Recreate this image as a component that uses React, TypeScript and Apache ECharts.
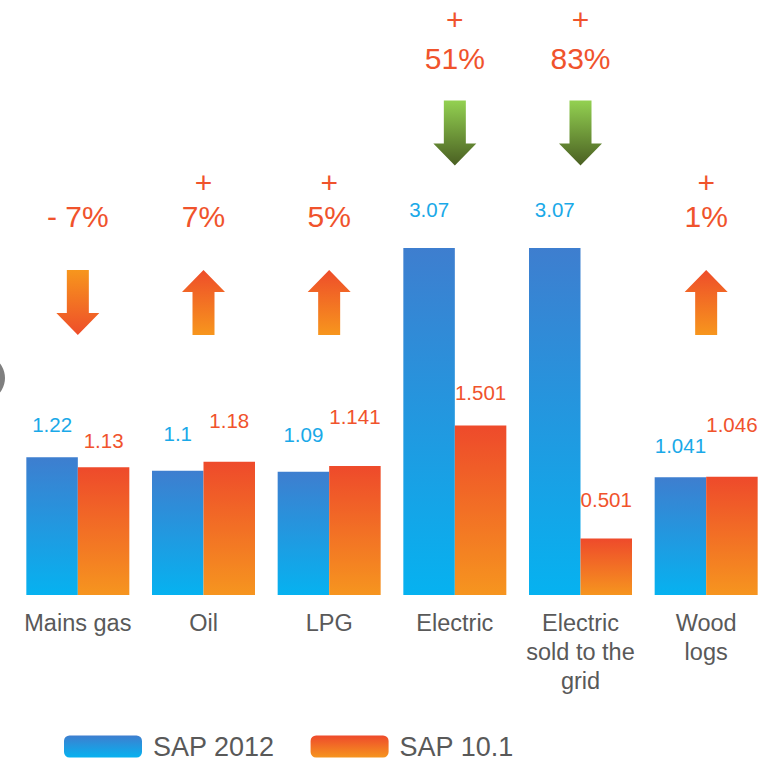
import React, { useEffect, useRef } from "react";
import * as echarts from "echarts";

const categories = ["Mains gas", "Oil", "LPG", "Electric", "Electric\nsold to the\ngrid", "Wood\nlogs"];
const sap2012 = [1.22, 1.1, 1.09, 3.07, 3.07, 1.041];
const sap101 = [1.13, 1.18, 1.141, 1.501, 0.501, 1.046];
const changeLabels = ["- 7%", "7%", "5%", "51%", "83%", "1%"];
const changeSigns = ["", "+", "+", "+", "+", "+"];
const arrowDirections = ["down", "up", "up", "down", "down", "up"];
const arrowKinds = ["orange", "orange", "orange", "green", "green", "orange"];
const seriesNames = ["SAP 2012", "SAP 10.1"];

// label lift (style only)
const blueLabelLift = [22, 27, 27, 28, 28, 21];
const orangeLabelLift = [16, 31, 39, 22, 28, 42];

const FONT = "'Liberation Sans', Arial, Helvetica, sans-serif";
const BLUE_LABEL = "#1aa9e8";
const ORANGE_LABEL = "#f0532c";

const grad = (a: string, b: string) =>
  new echarts.graphic.LinearGradient(0, 0, 0, 1, [
    { offset: 0, color: a },
    { offset: 1, color: b },
  ]);

export default function App() {
  const ref = useRef<HTMLDivElement>(null);
  useEffect(() => {
    if (!ref.current) return;
    const chart = echarts.init(ref.current, null, { renderer: "svg" });
    const blueGrad = grad("#3e7ecf", "#06b2f0");
    const orangeGrad = grad("#ee4a2b", "#f6951f");

    const option: any = {
      animation: false,
      backgroundColor: "#ffffff",
      textStyle: { fontFamily: FONT },
      grid: { left: 15, right: 0, top: 30, bottom: 166, containLabel: false },
      legend: {
        data: seriesNames,
        left: 59,
        top: 728,
        itemWidth: 78,
        itemHeight: 22,
        itemGap: 36,
        icon: "roundRect",
        textStyle: { fontSize: 27, color: "#595959", fontFamily: FONT, padding: [0, 0, 0, 6] },
      },
      xAxis: {
        type: "category",
        data: categories,
        axisLine: { show: false },
        axisTick: { show: false },
        axisLabel: {
          interval: 0,
          fontSize: 23.5,
          lineHeight: 29,
          color: "#595959",
          fontFamily: FONT,
          margin: 13,
        },
      },
      yAxis: { type: "value", show: false, min: 0, max: 5, splitLine: { show: false } },
      graphic: [
        { type: "circle", shape: { cx: -18.5, cy: 378, r: 23.5 }, style: { fill: "#7f7f7f" }, silent: true },
      ],
      series: [
        {
          name: seriesNames[0],
          type: "bar",
          barWidth: 51.5,
          barGap: "0%",
          itemStyle: { color: blueGrad },
          label: { show: true, position: "top", fontSize: 20.5, color: BLUE_LABEL, fontFamily: FONT },
          data: sap2012.map((v, i) => ({ value: v, label: { distance: blueLabelLift[i] } })),
        },
        {
          name: seriesNames[1],
          type: "bar",
          barWidth: 51.5,
          barGap: "0%",
          itemStyle: { color: orangeGrad },
          label: { show: true, position: "top", fontSize: 20.5, color: ORANGE_LABEL, fontFamily: FONT },
          data: sap101.map((v, i) => ({ value: v, label: { distance: orangeLabelLift[i] } })),
        },
        {
          type: "custom",
          name: "change",
          silent: true,
          data: categories.map((_, i) => [i, Math.max(sap2012[i], sap101[i])]),
          renderItem: (params: any, api: any) => {
            const i = api.value(0);
            const maxV = api.value(1);
            const high = maxV > 2;
            const anchor = high ? 3.8 : 2.3; // arrow bottom in axis units
            const [cx, bottom] = api.coord([i, anchor]);
            const h = 65, w = 43, sw = 22, hh = 22;
            const top = bottom - h;
            const up = arrowDirections[i] === "up";
            let pts: number[][];
            if (up) {
              pts = [
                [cx, top], [cx + w / 2, top + hh], [cx + sw / 2, top + hh], [cx + sw / 2, bottom],
                [cx - sw / 2, bottom], [cx - sw / 2, top + hh], [cx - w / 2, top + hh],
              ];
            } else {
              pts = [
                [cx - sw / 2, top], [cx + sw / 2, top], [cx + sw / 2, bottom - hh], [cx + w / 2, bottom - hh],
                [cx, bottom], [cx - w / 2, bottom - hh], [cx - sw / 2, bottom - hh],
              ];
            }
            let fill;
            if (arrowKinds[i] === "green") fill = grad("#93d151", "#4a5f22");
            else fill = up ? grad("#ee4d2a", "#f7961d") : grad("#f7961d", "#ee4d2a");
            const pctY = high ? top - 42 : top - 54;
            const plusY = high ? top - 81 : top - 88;
            const children: any[] = [
              { type: "polygon", shape: { points: pts }, style: { fill } },
              {
                type: "text",
                style: {
                  text: changeLabels[i], x: cx, y: pctY, align: "center", verticalAlign: "middle",
                  fontSize: 30, fill: ORANGE_LABEL, fontFamily: FONT,
                },
              },
            ];
            if (changeSigns[i]) {
              children.push({
                type: "text",
                style: {
                  text: changeSigns[i], x: cx, y: plusY, align: "center", verticalAlign: "middle",
                  fontSize: 30, fill: ORANGE_LABEL, fontFamily: FONT,
                },
              });
            }
            return { type: "group", children };
          },
        },
      ],
    };
    chart.setOption(option);
    return () => chart.dispose();
  }, []);
  return (
    <div
      ref={ref}
      style={{ position: "fixed", left: 0, top: 0, width: 769, height: 761 }}
    />
  );
}
